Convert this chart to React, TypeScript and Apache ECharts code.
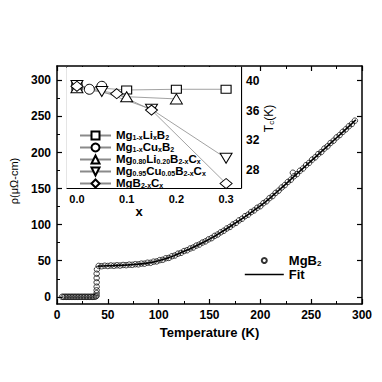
import React, { useEffect, useRef } from "react";
import * as echarts from "echarts";

// ---- main panel: MgB2 resistivity ----
const zeroTemp = [5, 6.5, 8, 9.5, 11, 12.5, 14, 15.5, 17, 18.5, 20, 21.5, 23, 24.5, 26, 27.5, 29, 30.5, 32, 33.5, 35, 36.5, 38];
const zeroRho = [0, 0, 0, 0, 0, 0, 0, 0, 0, 0, 0, 0, 0, 0, 0, 0, 0, 0, 0, 0, 0, 0, 0.3];
const stepTemp = [39, 39, 39, 39, 39, 39, 39, 39.3];
const stepRho = [1.5, 5, 9, 14, 20, 26, 32, 38];
const normTemp = [41, 44, 47, 50, 53, 56, 59, 62, 65, 68, 71, 74, 77, 80, 83, 86, 89, 92, 95, 98, 101, 104, 107, 110, 113, 116, 119, 122, 125, 128, 131, 134, 137, 140, 143, 146, 149, 152, 155, 158, 161, 164, 167, 170, 173, 176, 179, 182, 185, 188, 191, 194, 197, 200, 203, 206, 209, 212, 215, 218, 221, 224, 227, 230, 232, 233, 236, 239, 242, 245, 248, 251, 254, 257, 260, 263, 266, 269, 272, 275, 278, 281, 284, 287, 290, 293];
const normRho = [42.8, 42.4, 43.1, 42.7, 43.4, 43.0, 43.7, 43.3, 44.1, 43.8, 44.6, 44.3, 45.2, 45.0, 46.0, 45.9, 47.2, 47.1, 48.7, 49.0, 50.8, 51.3, 53.4, 53.9, 56.2, 57.2, 59.8, 60.9, 63.4, 64.5, 67.0, 68.3, 71.0, 72.4, 75.2, 76.8, 79.6, 81.3, 84.4, 86.3, 89.4, 91.5, 94.7, 96.8, 100.2, 102.4, 105.9, 108.2, 111.8, 113.9, 117.6, 119.8, 123.5, 125.6, 129.8, 132.4, 136.8, 139.6, 144.0, 147.1, 151.5, 154.8, 159.2, 162.3, 172.0, 167.0, 170.1, 174.8, 177.9, 182.5, 185.7, 190.2, 193.4, 197.9, 200.8, 205.5, 208.6, 213.2, 216.4, 221.0, 224.2, 228.6, 232.1, 236.4, 239.6, 244.2];
const fitTemp = [40, 45, 50, 55, 60, 65, 70, 75, 80, 85, 90, 95, 100, 105, 110, 115, 120, 125, 130, 135, 140, 145, 150, 155, 160, 165, 170, 175, 180, 185, 190, 195, 200, 205, 210, 215, 220, 225, 230, 235, 240, 245, 250, 255, 260, 265, 270, 275, 280, 285, 290, 294];
const fitRho = [42.5, 42.7, 43, 43.2, 43.5, 43.8, 44.2, 44.7, 45.3, 46, 47, 48.3, 50, 52, 54.3, 57, 60, 63, 66, 69.3, 72.8, 76.3, 80, 84, 88.2, 92.6, 97.1, 101.7, 106.4, 111.2, 116.1, 121.1, 126, 131.6, 137.5, 143.6, 149.9, 156.3, 162.8, 169.2, 175.6, 182, 188.4, 194.8, 201.2, 207.6, 214, 220.5, 227, 233.5, 240, 245.5];
const mainYTicks = [0, 50, 100, 150, 200, 250, 300];
const mainYMinor = [25, 75, 125, 175, 225, 275];

// ---- inset: Tc vs x ----
const liX = [0, 0.1, 0.2, 0.3];
const liTc = [39.3, 38.8, 38.9, 38.9];
const cuX = [0, 0.025, 0.05];
const cuTc = [39.4, 38.9, 39.3];
const liCX = [0, 0.1, 0.2];
const liCTc = [39.1, 37.9, 37.6];
const cuCX = [0, 0.05, 0.15, 0.3];
const cuCTc = [39.4, 38.6, 36.2, 29.6];
const cX = [0, 0.08, 0.15, 0.3];
const cTc = [39.3, 38.3, 36.1, 26.2];
const insetXLabels = [0, 0.1, 0.2, 0.3];
const insetXMinor = [0.05, 0.15, 0.25];
const insetYLabels = [28, 32, 36, 40];
const insetYTicks = [26, 28, 30, 32, 34, 36, 38, 40];

const richNames: Record<string, string> = {
  "Mg1-xLixB2": "{a|Mg}{s|1-x}{a|Li}{s|x}{a|B}{s|2}",
  "Mg1-xCuxB2": "{a|Mg}{s|1-x}{a|Cu}{s|x}{a|B}{s|2}",
  "Mg0.80Li0.20B2-xCx": "{a|Mg}{s|0.80}{a|Li}{s|0.20}{a|B}{s|2-x}{a|C}{s|x}",
  "Mg0.95Cu0.05B2-xCx": "{a|Mg}{s|0.95}{a|Cu}{s|0.05}{a|B}{s|2-x}{a|C}{s|x}",
  "MgB2-xCx": "{a|MgB}{s|2-x}{a|C}{s|x}",
  MgB2: "{a|MgB}{s|2}",
  Fit: "{a|Fit}",
};

const FONT = "'Liberation Sans', Arial, sans-serif";
const zip = (a: number[], b: number[]) => a.map((v, i) => [v, b[i]]);

export default function App() {
  const ref = useRef<HTMLDivElement>(null);
  useEffect(() => {
    if (!ref.current) return;
    const chart = echarts.init(ref.current, undefined, { renderer: "svg" });
    const black = "#000";
    const tickLbl = { color: black, fontFamily: FONT, fontWeight: "bold" as const };
    const line = (w: number) => ({ show: true, onZero: false, lineStyle: { color: black, width: w } });
    const noLine = { show: false, onZero: false };
    const hiddenAxisBase = {
      axisLine: noLine,
      axisLabel: { show: false },
      splitLine: { show: false },
    };
    const insetSym = {
      itemStyle: { color: "#fff", borderColor: black, borderWidth: 1 },
      lineStyle: { color: "#8a8a8a", width: 0.8 },
      xAxisIndex: 2,
      yAxisIndex: 3,
      z: 5,
    };
    const option: any = {
      animation: false,
      backgroundColor: "#fff",
      textStyle: { fontFamily: FONT },
      grid: [
        { left: 57, top: 66, width: 305, height: 238, show: false },
        { left: 67, top: 67, width: 174, height: 121, show: true, backgroundColor: "#fff", borderWidth: 0, z: 3 },
      ],
      xAxis: [
        {
          type: "value", gridIndex: 0, position: "bottom", min: 0, max: 300, interval: 50,
          axisLine: line(1.5),
          axisTick: { show: true, inside: true, length: 5, lineStyle: { color: black, width: 1.2 } },
          minorTick: { show: true, splitNumber: 2, length: 3, lineStyle: { color: black, width: 1 } },
          axisLabel: { ...tickLbl, fontSize: 12, margin: 5 },
          splitLine: { show: false },
          name: "Temperature (K)", nameLocation: "middle", nameGap: 17,
          nameTextStyle: { color: black, fontFamily: FONT, fontWeight: "bold", fontSize: 13 },
        },
        {
          type: "value", gridIndex: 0, position: "top", min: 0, max: 300, interval: 50,
          axisLine: line(1.5),
          axisTick: { show: true, inside: true, length: 5, lineStyle: { color: black, width: 1.2 } },
          minorTick: { show: true, splitNumber: 2, length: 3, lineStyle: { color: black, width: 1 } },
          axisLabel: { show: false }, splitLine: { show: false },
        },
        {
          type: "value", gridIndex: 1, position: "bottom", min: -0.02, max: 0.33,
          axisLine: line(1.2),
          axisTick: { show: true, inside: true, length: 4, customValues: insetXLabels, lineStyle: { color: black, width: 1 } },
          axisLabel: { ...tickLbl, fontSize: 11, margin: 5, customValues: insetXLabels, formatter: (v: number) => v.toFixed(1) },
          splitLine: { show: false },
          name: "x", nameLocation: "middle", nameGap: 8,
          nameTextStyle: { color: black, fontFamily: FONT, fontWeight: "bold", fontSize: 13, padding: [0, 30, 0, 0] },
        },
        {
          type: "value", gridIndex: 1, position: "bottom", min: -0.02, max: 0.33, ...hiddenAxisBase,
          axisTick: { show: true, inside: true, length: 2.5, customValues: insetXMinor, lineStyle: { color: black, width: 1 } },
        },
        {
          type: "value", gridIndex: 1, position: "top", min: -0.02, max: 0.33,
          axisLine: line(1.2),
          axisTick: { show: true, inside: true, length: 4, customValues: insetXLabels, lineStyle: { color: black, width: 1 } },
          axisLabel: { show: false }, splitLine: { show: false },
        },
      ],
      yAxis: [
        {
          type: "value", gridIndex: 0, position: "left", min: -10, max: 320,
          axisLine: line(1.5),
          axisTick: { show: true, inside: true, length: 5, customValues: mainYTicks, lineStyle: { color: black, width: 1.2 } },
          axisLabel: { ...tickLbl, fontSize: 12, margin: 6, customValues: mainYTicks },
          splitLine: { show: false },
          name: "ρ(μΩ-cm)", nameLocation: "middle", nameGap: 38,
          nameTextStyle: { color: black, fontFamily: FONT, fontSize: 11, padding: [0, 0, 0, 8] },
        },
        {
          type: "value", gridIndex: 0, position: "right", min: -10, max: 320,
          axisLine: line(1.5),
          axisTick: { show: true, inside: true, length: 5, customValues: mainYTicks, lineStyle: { color: black, width: 1.2 } },
          axisLabel: { show: false }, splitLine: { show: false },
        },
        {
          type: "value", gridIndex: 0, position: "left", min: -10, max: 320, ...hiddenAxisBase,
          axisTick: { show: true, inside: true, length: 3, customValues: mainYMinor, lineStyle: { color: black, width: 1 } },
        },
        {
          type: "value", gridIndex: 1, position: "right", min: 25.6, max: 41.9,
          axisLine: line(1.2),
          axisTick: { show: true, inside: true, length: 3.5, customValues: insetYTicks, lineStyle: { color: black, width: 1 } },
          axisLabel: { ...tickLbl, fontSize: 12, margin: 5, customValues: insetYLabels },
          splitLine: { show: false },
          name: "{a|T}{s|c}{a|(K)}", nameLocation: "middle", nameGap: 16,
          nameTextStyle: {
            color: black, fontFamily: FONT, fontSize: 12, padding: [0, 0, 0, 18],
            rich: {
              a: { fontFamily: FONT, fontSize: 12, color: black, lineHeight: 14, verticalAlign: "bottom" },
              s: { fontFamily: FONT, fontSize: 8, color: black, lineHeight: 6, verticalAlign: "bottom" },
            },
          },
        },
        {
          type: "value", gridIndex: 1, position: "left", min: 25.6, max: 41.9,
          axisLine: line(1.2),
          axisTick: { show: true, inside: true, length: 3.5, customValues: insetYTicks, lineStyle: { color: black, width: 1 } },
          axisLabel: { show: false }, splitLine: { show: false },
        },
      ],
      legend: [
        {
          orient: "vertical", left: 239, top: 249, itemWidth: 39, itemHeight: 5, itemGap: 1,
          selectedMode: false,
          data: [
            { name: "MgB2" },
            { name: "Fit", itemStyle: { opacity: 0 }, lineStyle: { color: black, width: 1.6, opacity: 1 } },
          ],
          formatter: (n: string) => richNames[n] || n,
          textStyle: {
            color: black,
            rich: {
              a: { fontFamily: FONT, fontWeight: "bold", fontSize: 13, color: black, lineHeight: 13, verticalAlign: "bottom" },
              s: { fontFamily: FONT, fontWeight: "bold", fontSize: 8, color: black, lineHeight: 5, verticalAlign: "bottom" },
            },
          },
        },
        {
          orient: "vertical", left: 74, top: 124, itemWidth: 31, itemHeight: 10, itemGap: 0,
          selectedMode: false, z: 6,
          data: ["Mg1-xLixB2", "Mg1-xCuxB2", "Mg0.80Li0.20B2-xCx", "Mg0.95Cu0.05B2-xCx", "MgB2-xCx"],
          formatter: (n: string) => richNames[n] || n,
          textStyle: {
            color: black,
            rich: {
              a: { fontFamily: FONT, fontWeight: "bold", fontSize: 11.5, color: black, lineHeight: 11, verticalAlign: "bottom" },
              s: { fontFamily: FONT, fontWeight: "bold", fontSize: 7, color: black, lineHeight: 4, verticalAlign: "bottom" },
            },
          },
        },
      ],
      series: [
        {
          type: "scatter", name: "MgB2", xAxisIndex: 0, yAxisIndex: 0,
          data: [...zip(zeroTemp, zeroRho), ...zip(stepTemp, stepRho), ...zip(normTemp, normRho)],
          symbol: "circle", symbolSize: 5.5,
          itemStyle: { color: "rgba(255,255,255,0)", borderColor: black, borderWidth: 0.9 },
        },
        {
          type: "line", name: "Fit", xAxisIndex: 0, yAxisIndex: 0,
          data: zip(fitTemp, fitRho), symbol: "none", showSymbol: false,
          lineStyle: { color: black, width: 1.6 }, itemStyle: { color: black },
        },
        { ...insetSym, type: "line", name: "Mg1-xLixB2", data: zip(liX, liTc), symbol: "rect", symbolSize: [10, 8] },
        { ...insetSym, type: "line", name: "Mg1-xCuxB2", data: zip(cuX, cuTc), symbol: "circle", symbolSize: 10 },
        { ...insetSym, type: "line", name: "Mg0.80Li0.20B2-xCx", data: zip(liCX, liCTc), symbol: "triangle", symbolSize: [12, 10] },
        { ...insetSym, type: "line", name: "Mg0.95Cu0.05B2-xCx", data: zip(cuCX, cuCTc), symbol: "triangle", symbolRotate: 180, symbolSize: [12, 10] },
        { ...insetSym, type: "line", name: "MgB2-xCx", data: zip(cX, cTc), symbol: "diamond", symbolSize: [12, 10] },
      ],
    };
    chart.setOption(option);
    return () => chart.dispose();
  }, []);
  return (
    <div
      ref={ref}
      style={{ position: "fixed", left: 0, top: 0, width: 382, height: 382, background: "#fff" }}
    />
  );
}
